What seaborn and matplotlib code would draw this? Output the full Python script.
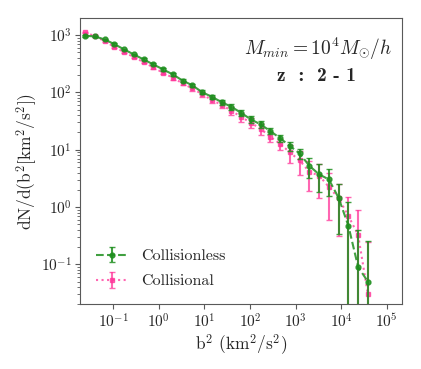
import numpy as np
import matplotlib
matplotlib.use("Agg")
import matplotlib.pyplot as plt
import seaborn as sns

# ─── data ───
log_b2 = np.round(np.arange(30) * 0.2138 - 1.614, 4)
b2 = 10 ** log_b2

collisionless = [973, 948, 841, 697, 563, 460, 376, 308, 252, 206,
                 161, 133, 101, 83.8, 67.7, 56.1, 44.1, 33.8, 27.7, 21.1,
                 15.9, 11.6, 8.61, 5.23, 3.71, 3.03, 1.44, 0.47, 0.0895, 0.05]
collisionless_err = [30, 28, 25, 22, 19, 17, 15, 13, 12, 11,
                     10, 9, 8, 7, 6.5, 6, 5.5, 4.6, 3.6, 2.6,
                     2.3, 2.0, 1.6, 2.0, 1.9, 1.5, 1.1, 0.76, 0.31, 0.21]

collisional = [1114, 960, 785, 625, 505, 413, 338, 273, 220, 180,
               144, 117, 93.3, 73.4, 60.8, 47.8, 37.5, 29.5, 23.2, 16.8,
               12.7, 8.98, 6.51, 4.11, 3.53, 2.25, 1.41, 0.70, 0.324, 0.03]
collisional_err = [40, 35, 30, 26, 23, 20, 18, 16, 14, 13,
                   12, 11, 10, 9, 8, 7.5, 7, 6, 5, 3.2,
                   2.8, 3.1, 2.9, 2.2, 2.1, 1.66, 1.1, 0.77, 0.56, 0.22]

label_a = "Collisionless"
label_b = "Collisional"

# ─── style ───
sns.set_style("ticks")
plt.rcParams["font.family"] = "serif"
plt.rcParams["font.serif"] = ["cmr10", "DejaVu Serif"]
plt.rcParams["mathtext.fontset"] = "cm"
plt.rcParams["axes.formatter.use_mathtext"] = True
plt.rcParams["axes.unicode_minus"] = False

fig = plt.figure(figsize=(4.21, 3.69), dpi=100)
ax = fig.add_axes([0.190, 0.175, 0.765, 0.775])

green = "#1f8f1f"
pink = "#ff3399"

ax.errorbar(b2, collisionless, yerr=collisionless_err, color=green, ls="--",
            marker="o", ms=3.5, lw=1.5, elinewidth=1.5, capsize=2, capthick=1,
            alpha=0.85, label=label_a, zorder=3)
ax.errorbar(b2, collisional, yerr=collisional_err, color=pink, ls=":",
            marker="s", ms=3, lw=1.5, elinewidth=1.5, capsize=2, capthick=1,
            alpha=0.75, label=label_b, zorder=2)

ax.set_xscale("log")
ax.set_yscale("log")
ax.set_xlim(0.0189, 2.16e5)
ax.set_ylim(0.020, 1950)
ax.xaxis.set_minor_locator(matplotlib.ticker.NullLocator())

for s in ax.spines.values():
    s.set_color("0.35")
ax.tick_params(axis="both", which="major", labelsize=11, length=3.5,
               color="0.35", pad=2.5)
ax.tick_params(axis="both", which="minor", length=2, color="0.35")

ax.set_xlabel(r"b$^2$ (km$^2$/s$^2$)", fontsize=12.5, labelpad=1)
ax.set_ylabel(r"dN/d(b$^2$[km$^2$/s$^2$])", fontsize=12.5, labelpad=1)

ax.text(0.97, 0.895, r"$M_{min} = 10^4 M_{\odot}/h$", transform=ax.transAxes,
        ha="right", va="center", fontsize=14)
ax.text(0.735, 0.80, "z  :  2 - 1", transform=ax.transAxes, ha="center",
        va="center", fontsize=14, family="cmb10")

ax.legend(loc="lower left", frameon=False, fontsize=11.5,
          bbox_to_anchor=(0.0, 0.0), handlelength=2.0, labelspacing=0.7,
          borderaxespad=0.6)

fig.savefig("out.png", dpi=100)
